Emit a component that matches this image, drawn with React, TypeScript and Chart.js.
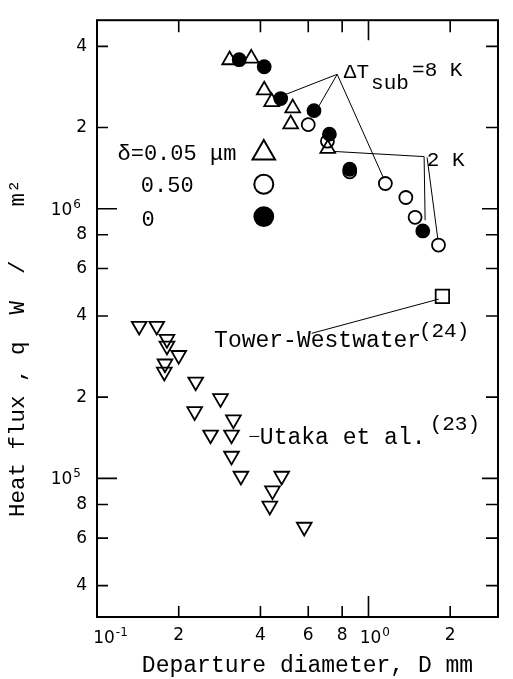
import React, { useEffect, useRef } from 'react';
import { Chart, registerables } from 'chart.js';

Chart.register(...registerables);

// ---- axis ticks ----
const X_TICKS = [0.1, 0.2, 0.4, 0.6, 0.8, 1, 2];
const X_TICK_LABELS = ['10^-1', '2', '4', '6', '8', '10^0', '2'];
const Y_TICKS = [4e4, 6e4, 8e4, 1e5, 2e5, 4e5, 6e5, 8e5, 1e6, 2e6, 4e6];
const Y_TICK_LABELS = ['4', '6', '8', '10^5', '2', '4', '6', '8', '10^6', '2', '4'];

// ---- data: departure diameter D (mm) vs heat flux q (W/m2) ----
// δ = 0 (filled circles)
const FILLED_D = [0.334, 0.413, 0.475, 0.630, 0.718, 0.853, 1.585];
const FILLED_Q = [3.57e6, 3.36e6, 2.56e6, 2.31e6, 1.89e6, 1.40e6, 0.827e6];
// δ = 0.50 µm (open circles)
const OPEN_D = [0.600, 0.706, 0.853, 1.154, 1.373, 1.485, 1.811];
const OPEN_Q = [2.05e6, 1.78e6, 1.37e6, 1.24e6, 1.10e6, 0.929e6, 0.733e6];
// δ = 0.05 µm (open triangles)
const TRI_D = [0.308, 0.370, 0.413, 0.440, 0.526, 0.517, 0.708];
const TRI_Q = [3.56e6, 3.61e6, 2.75e6, 2.49e6, 2.36e6, 2.06e6, 1.67e6];
// Utaka et al. (23) (inverted triangles)
const UTAKA_D = [0.143, 0.166, 0.181, 0.181, 0.200, 0.178, 0.177, 0.231, 0.285, 0.229,
  0.318, 0.262, 0.313, 0.313, 0.339, 0.479, 0.443, 0.433, 0.580];
const UTAKA_Q = [3.67e5, 3.67e5, 3.28e5, 3.10e5, 2.86e5, 2.66e5, 2.48e5, 2.28e5, 1.98e5, 1.77e5,
  1.65e5, 1.45e5, 1.45e5, 1.21e5, 1.02e5, 1.02e5, 0.90e5, 0.79e5, 0.66e5];
// Tower-Westwater (24) (square)
const TOWER_D = [1.872];
const TOWER_Q = [4.73e5];

// legend symbols (data space anchors)
const LEG_D = [0.4115];
const LEG_TRI_Q = [1.609e6];
const LEG_OPEN_Q = [1.232e6];
const LEG_FILLED_Q = [9.35e5];

// leader lines [x1, y1, x2, y2] in data units
const LEADERS: number[][] = [
  [0.767, 3.15e6, 0.494, 2.65e6],
  [0.767, 3.15e6, 0.650, 2.36e6],
  [0.767, 3.15e6, 1.132, 1.31e6],
  [0.748, 1.63e6, 1.603, 1.56e6],
  [1.603, 1.56e6, 1.617, 9.06e5],
  [1.644, 1.55e6, 1.800, 7.74e5],
  [1.815, 4.62e5, 0.618, 3.45e5],
  [0.364, 1.43e5, 0.396, 1.43e5],
];

// annotation texts
const MONO = '"Liberation Mono", "DejaVu Sans Mono", monospace';
const SANS = '"DejaVu Sans", sans-serif';
const TEXTS = [
  { t: 'Tower-Westwater', x: 0.270, y: 3.08e5, size: 23 },
  { t: '(24)', x: 1.534, y: 3.33e5, size: 21 },
  { t: 'Utaka et al.', x: 0.398, y: 1.34e5, size: 23 },
  { t: '(23)', x: 1.680, y: 1.505e5, size: 21 },
  { t: 'δ=0.05 μm', x: 0.119, y: 1.52e6, size: 22 },
  { t: '0.50', x: 0.145, y: 1.152e6, size: 22 },
  { t: '0', x: 0.146, y: 8.61e5, size: 22 },
  { t: 'ΔT', x: 0.811, y: 3.06e6, size: 21 },
  { t: 'sub', x: 1.022, y: 2.79e6, size: 21 },
  { t: '=8 K', x: 1.447, y: 3.11e6, size: 21 },
  { t: '2 K', x: 1.639, y: 1.443e6, size: 21 },
];

const X_TITLE = 'Departure diameter, D mm';
const Y_TITLE = 'Heat flux , q  W  /    m²';

const pts = (xs: number[], ys: number[]) => xs.map((x, i) => ({ x, y: ys[i] }));
const isPow = (s: string) => s.indexOf('^') >= 0;

const decorPlugin = {
  id: 'decor',
  afterDraw(chart: any) {
    const { ctx, chartArea: a, scales } = chart;
    const xs = scales.x;
    const ys = scales.y;
    ctx.save();
    ctx.strokeStyle = '#000';
    ctx.fillStyle = '#000';
    // frame
    ctx.lineWidth = 2;
    ctx.strokeRect(a.left, a.top, a.right - a.left, a.bottom - a.top);
    // inward ticks
    ctx.lineWidth = 1.6;
    ctx.beginPath();
    X_TICKS.forEach((v) => {
      if (v === 0.1) return;
      const px = xs.getPixelForValue(v);
      ctx.moveTo(px, a.bottom);
      ctx.lineTo(px, a.bottom - (v === 1 ? 21 : 11));
      ctx.moveTo(px, a.top);
      ctx.lineTo(px, a.top + (v === 1 ? 20 : 12));
    });
    Y_TICKS.forEach((v) => {
      const py = ys.getPixelForValue(v);
      const major = v === 1e5 || v === 1e6;
      ctx.moveTo(a.left, py);
      ctx.lineTo(a.left + (major ? 20 : 11), py);
      ctx.moveTo(a.right, py);
      ctx.lineTo(a.right - (major ? 16 : 12), py);
    });
    ctx.stroke();
    // power-of-ten tick labels with raised exponents
    ctx.textBaseline = 'alphabetic';
    X_TICKS.forEach((v, i) => {
      const lab = X_TICK_LABELS[i];
      if (!isPow(lab)) return;
      const [base, exp] = lab.split('^');
      const px = xs.getPixelForValue(v) + (v === 0.1 ? 7 : 2);
      ctx.font = `17px ${SANS}`;
      const bw = ctx.measureText(base).width;
      ctx.textAlign = 'left';
      ctx.fillText(base, px - bw / 2, a.bottom + 26);
      ctx.font = `12px ${SANS}`;
      ctx.fillText(exp === '-1' ? '-1' : exp, px + bw / 2 + 1, a.bottom + 19);
    });
    Y_TICKS.forEach((v, i) => {
      const lab = Y_TICK_LABELS[i];
      if (!isPow(lab)) return;
      const [base, exp] = lab.split('^');
      const py = ys.getPixelForValue(v);
      ctx.font = `12px ${SANS}`;
      const ew = ctx.measureText(exp).width;
      const right = a.left - 16;
      ctx.textAlign = 'left';
      ctx.fillText(exp, right - ew, py - 1);
      ctx.font = `17px ${SANS}`;
      ctx.textAlign = 'right';
      ctx.fillText(base, right - ew - 1, py + 6);
    });
    // leader lines
    ctx.lineWidth = 1;
    ctx.beginPath();
    LEADERS.forEach(([x1, y1, x2, y2]) => {
      ctx.moveTo(xs.getPixelForValue(x1), ys.getPixelForValue(y1));
      ctx.lineTo(xs.getPixelForValue(x2), ys.getPixelForValue(y2));
    });
    ctx.stroke();
    // annotation texts
    ctx.textAlign = 'left';
    ctx.textBaseline = 'alphabetic';
    TEXTS.forEach((o) => {
      ctx.font = `${o.size}px ${MONO}`;
      ctx.fillText(o.t, xs.getPixelForValue(o.x), ys.getPixelForValue(o.y));
    });
    // axis titles
    ctx.font = `23px ${MONO}`;
    ctx.textAlign = 'center';
    ctx.fillText(X_TITLE, (a.left + a.right) / 2 + 10, chart.height - 7);
    ctx.save();
    ctx.translate(18, 517);
    ctx.rotate(-Math.PI / 2);
    ctx.font = `22.5px ${MONO}`;
    ctx.textAlign = 'left';
    ctx.textBaseline = 'middle';
    ctx.fillText(Y_TITLE, 0, 0);
    ctx.restore();
    ctx.restore();
  },
};

export default function App() {
  const ref = useRef<HTMLCanvasElement | null>(null);
  useEffect(() => {
    if (!ref.current) return;
    const common = { showLine: false, borderColor: '#000', pointBorderWidth: 1.8 };
    const hollow = 'rgba(0,0,0,0)';
    const chart = new Chart(ref.current, {
      type: 'scatter',
      data: {
        datasets: [
          { ...common, label: 'δ=0', data: pts(FILLED_D, FILLED_Q), pointStyle: 'circle', pointRadius: 6.5, pointBackgroundColor: '#000', pointBorderColor: '#000' },
          { ...common, label: 'δ=0.50', data: pts(OPEN_D, OPEN_Q), pointStyle: 'circle', pointRadius: 6.5, pointBackgroundColor: hollow, pointBorderColor: '#000' },
          { ...common, label: 'δ=0.05', data: pts(TRI_D, TRI_Q), pointStyle: 'triangle', pointRadius: 8.5, pointBackgroundColor: hollow, pointBorderColor: '#000' },
          { ...common, label: 'Utaka', data: pts(UTAKA_D, UTAKA_Q), pointStyle: 'triangle', pointRotation: 180, pointRadius: 8.5, pointBackgroundColor: hollow, pointBorderColor: '#000' },
          { ...common, label: 'Tower', data: pts(TOWER_D, TOWER_Q), pointStyle: 'rect', pointRadius: 9.5, pointBackgroundColor: hollow, pointBorderColor: '#000' },
          { ...common, label: 'leg-tri', data: pts(LEG_D, LEG_TRI_Q), pointStyle: 'triangle', pointRadius: 13, pointBackgroundColor: hollow, pointBorderColor: '#000', pointBorderWidth: 2 },
          { ...common, label: 'leg-open', data: pts(LEG_D, LEG_OPEN_Q), pointStyle: 'circle', pointRadius: 9.5, pointBackgroundColor: hollow, pointBorderColor: '#000', pointBorderWidth: 2 },
          { ...common, label: 'leg-filled', data: pts(LEG_D, LEG_FILLED_Q), pointStyle: 'circle', pointRadius: 9.5, pointBackgroundColor: '#000', pointBorderColor: '#000' },
        ],
      },
      options: {
        animation: false,
        responsive: false,
        devicePixelRatio: 1,
        layout: { padding: { top: 6, right: 5, left: 0, bottom: 0 } },
        plugins: { legend: { display: false }, tooltip: { enabled: false } },
        events: [],
        scales: {
          x: {
            type: 'logarithmic',
            min: 0.1,
            max: 3.0,
            afterFit: (s: any) => { s.height = 62; },
            afterBuildTicks: (s: any) => { s.ticks = X_TICKS.map((v) => ({ value: v })); },
            grid: { display: false, drawTicks: false },
            border: { display: false },
            ticks: {
              autoSkip: false,
              maxRotation: 0,
              padding: 8,
              color: '#000',
              font: { family: SANS, size: 17 },
              callback: (_v: any, i: number) => (isPow(X_TICK_LABELS[i]) ? '' : X_TICK_LABELS[i]),
            },
          },
          y: {
            type: 'logarithmic',
            min: 3.06e4,
            max: 5.0e6,
            afterFit: (s: any) => { s.width = 97; },
            afterBuildTicks: (s: any) => { s.ticks = Y_TICKS.map((v) => ({ value: v })); },
            grid: { display: false, drawTicks: false },
            border: { display: false },
            ticks: {
              autoSkip: false,
              padding: 10,
              color: '#000',
              font: { family: SANS, size: 17 },
              callback: (_v: any, i: number) => (isPow(Y_TICK_LABELS[i]) ? '' : Y_TICK_LABELS[i]),
            },
          },
        },
      },
      plugins: [decorPlugin],
    } as any);
    return () => chart.destroy();
  }, []);
  return (
    <div style={{ position: 'absolute', left: 0, top: 0, width: 513, height: 679, background: '#fff' }}>
      <canvas ref={ref} width={513} height={679} />
    </div>
  );
}
